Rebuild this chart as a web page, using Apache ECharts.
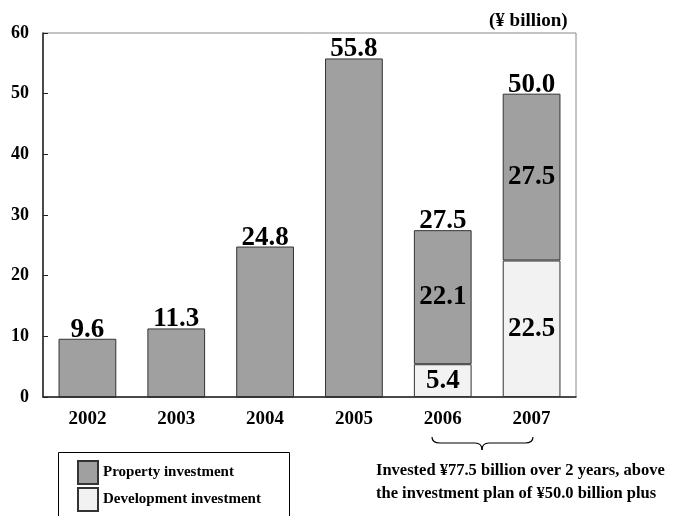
<!DOCTYPE html>
<html>
<head>
<meta charset="utf-8">
<script src="https://cdn.jsdelivr.net/npm/echarts@6/dist/echarts.min.js"></script>
<style>
html, body { margin: 0; padding: 0; background: #fff; }
#main { width: 683px; height: 516px; }
</style>
</head>
<body>
<div id="main"></div>
<script>
// data
var years = ['2002', '2003', '2004', '2005', '2006', '2007'];
var propertyInv = [9.6, 11.3, 24.8, 55.8, 22.1, 27.5];
var developmentInv = [0, 0, 0, 0, 5.4, 22.5];
var totals = [9.6, 11.3, 24.8, 55.8, 27.5, 50.0];
var yTicks = [0, 10, 20, 30, 40, 50, 60];

var serif = '"Liberation Serif", "Times New Roman", serif';

// brace under 2006-2007
var braceStyle = { fill: null, stroke: '#000', lineWidth: 1.2 };
function curve(x1, y1, cx, cy, x2, y2) {
    return { type: 'bezierCurve', shape: { x1: x1, y1: y1, cpx1: cx, cpy1: cy, x2: x2, y2: y2 }, style: braceStyle };
}
function seg(x1, y1, x2, y2) {
    return { type: 'line', shape: { x1: x1, y1: y1, x2: x2, y2: y2 }, style: braceStyle };
}

var myChart = echarts.init(document.getElementById('main'));
var option = {
    animation: false,
    title: {
        text: '(¥ billion)',
        left: 484,
        top: 7,
        textStyle: { fontFamily: serif, fontWeight: 'bold', fontSize: 19, color: '#000' }
    },
    grid: {
        left: 43,
        right: 107,
        top: 33,
        bottom: 119,
        show: true,
        borderColor: '#888',
        borderWidth: 1
    },
    legend: {
        orient: 'vertical',
        left: 59,
        top: 452,
        padding: [8, 10, 2, 18],
        itemWidth: 20,
        itemHeight: 23,
        itemGap: 2,
        icon: 'rect',
        data: ['Property investment', 'Development investment'],
        textStyle: { fontFamily: serif, fontWeight: 'bold', fontSize: 15, color: '#000' }
    },
    xAxis: {
        type: 'category',
        data: years,
        axisLine: { lineStyle: { color: '#222', width: 1.5 } },
        axisTick: { inside: true, length: 6, lineStyle: { color: '#222' } },
        axisLabel: { fontFamily: serif, fontWeight: 'bold', fontSize: 19, color: '#000', margin: 13 }
    },
    yAxis: {
        type: 'value',
        min: yTicks[0],
        max: yTicks[yTicks.length - 1],
        interval: 10,
        splitLine: { show: false },
        axisLine: { show: true, lineStyle: { color: '#222', width: 1.5 } },
        axisTick: { show: true, inside: true, length: 5, lineStyle: { color: '#222' } },
        axisLabel: { fontFamily: serif, fontWeight: 'bold', fontSize: 18, color: '#000', margin: 14 }
    },
    series: [
        {
            name: 'Development investment',
            type: 'bar',
            stack: 'inv',
            barWidth: '65%',
            itemStyle: { color: '#f2f2f2', borderColor: '#333', borderWidth: 1 },
            label: {
                show: true,
                position: 'inside',
                fontFamily: serif, fontWeight: 'bold', fontSize: 27, color: '#000',
                formatter: function (p) { return p.value ? p.value.toFixed(1) : ''; }
            },
            data: developmentInv
        },
        {
            name: 'Property investment',
            type: 'bar',
            stack: 'inv',
            barWidth: '65%',
            itemStyle: { color: '#a0a0a0', borderColor: '#333', borderWidth: 1 },
            label: {
                show: true,
                position: 'inside',
                fontFamily: serif, fontWeight: 'bold', fontSize: 27, color: '#000',
                formatter: function (p) {
                    return developmentInv[p.dataIndex] ? p.value.toFixed(1) : '';
                }
            },
            data: propertyInv
        },
        {
            name: 'total',
            type: 'scatter',
            symbolSize: 1,
            itemStyle: { color: 'rgba(0,0,0,0)', opacity: 1 },
            silent: true,
            z: 10,
            label: {
                show: true,
                position: 'top',
                distance: -5,
                opacity: 1,
                textBorderWidth: 0,
                fontFamily: serif, fontWeight: 'bold', fontSize: 27, color: '#000',
                formatter: function (p) { return p.value.toFixed(1); }
            },
            data: totals
        }
    ],
    graphic: [
        {
            type: 'rect',
            shape: { x: 58.5, y: 452.5, width: 231, height: 80 },
            style: { fill: null, stroke: '#000', lineWidth: 1 }
        },
        curve(432, 437, 432, 443, 440, 443),
        seg(440, 443, 475, 443),
        curve(475, 443, 482, 443, 482, 450),
        curve(482, 450, 482, 443, 489, 443),
        seg(489, 443, 525, 443),
        curve(525, 443, 533, 443, 533, 437),
        {
            type: 'text',
            left: 376,
            top: 459,
            style: {
                text: 'Invested ¥77.5 billion over 2 years, above\nthe investment plan of ¥50.0 billion plus',
                font: 'bold 16.5px ' + serif,
                fill: '#000',
                lineHeight: 23
            }
        }
    ]
};
myChart.setOption(option);
</script>
</body>
</html>
